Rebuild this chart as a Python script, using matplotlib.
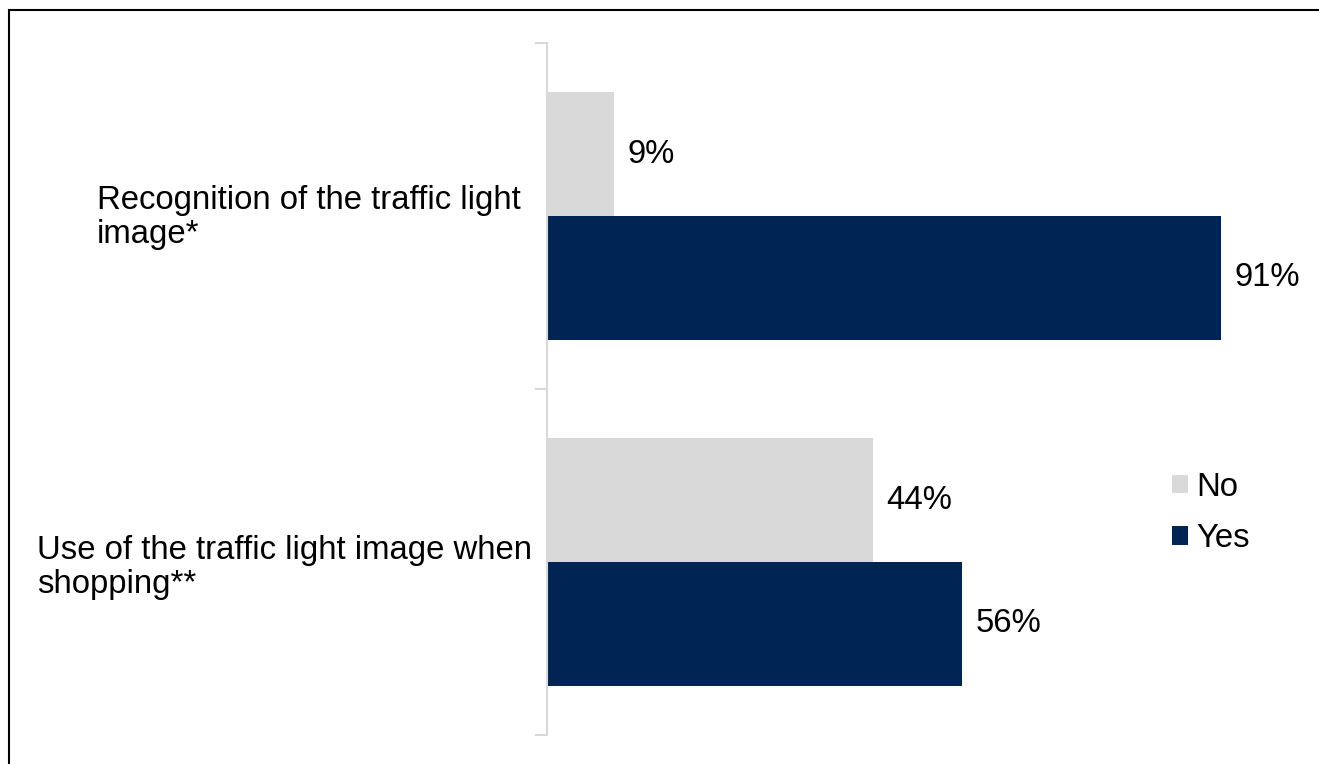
import matplotlib
matplotlib.use("Agg")
import matplotlib.pyplot as plt
from matplotlib.patches import Rectangle, Patch
from matplotlib.transforms import ScaledTranslation
import numpy as np

categories = ["Recognition of the traffic light\nimage*",
              "Use of the traffic light image when\nshopping**"]
no_values = [9, 44]
yes_values = [91, 56]
series_names = ["No", "Yes"]

NO_COLOR = "#d9d9d9"
YES_COLOR = "#002554"
FS = 23.7

plt.rcParams["font.family"] = ["Liberation Sans", "DejaVu Sans"]

W, H = 1319, 764
fig = plt.figure(figsize=(W / 100, H / 100), dpi=100)
ax = fig.add_axes([547 / W, (H - 735) / H, 741 / W, 692 / H])

y = np.arange(len(categories))
bh = 0.358
ax.barh(y - bh / 2, no_values, height=bh, color=NO_COLOR, label=series_names[0])
ax.barh(y + bh / 2, yes_values, height=bh, color=YES_COLOR, label=series_names[1])

for yi, v in zip(y - bh / 2, no_values):
    ax.text(v + 1.8, yi, f"{v}%", va="center", ha="left", fontsize=FS, color="black")
for yi, v in zip(y + bh / 2, yes_values):
    ax.text(v + 1.8, yi, f"{v}%", va="center", ha="left", fontsize=FS, color="black")

ax.set_xlim(0, 100)
ax.set_ylim(1.5, -0.5)

for s in ["top", "right", "bottom"]:
    ax.spines[s].set_visible(False)
ax.spines["left"].set_color(NO_COLOR)
ax.spines["left"].set_linewidth(1.5)
ax.set_xticks([])

ax.set_yticks(y)
ax.set_yticklabels(categories, fontsize=FS, multialignment="left", linespacing=1.15)
ax.tick_params(axis="y", which="major", length=0, pad=11)
ax.set_yticks([-0.5, 0.5, 1.5], minor=True)
ax.tick_params(axis="y", which="minor", length=9, width=1.5, color=NO_COLOR)

# the shorter wrapped label sits a little further from the axis
lbl = ax.get_yticklabels()[0]
lbl.set_transform(lbl.get_transform() + ScaledTranslation(-11 / 100, 4 / 100, fig.dpi_scale_trans))

handles = [Patch(facecolor=NO_COLOR, edgecolor="none"),
           Patch(facecolor=YES_COLOR, edgecolor="none")]
fig.legend(handles, series_names, loc="center left",
           bbox_to_anchor=(1159 / W, 1 - 513 / H), frameon=False,
           fontsize=FS, handlelength=0.48, handleheight=0.48,
           handletextpad=0.25, labelspacing=0.62, borderaxespad=0)

fig.patches.append(Rectangle((9 / W, -0.1), 1.2, 1.1 - 10.5 / H, transform=fig.transFigure,
                             fill=False, edgecolor="black", linewidth=1.5))

fig.savefig("out.png", dpi=100)
